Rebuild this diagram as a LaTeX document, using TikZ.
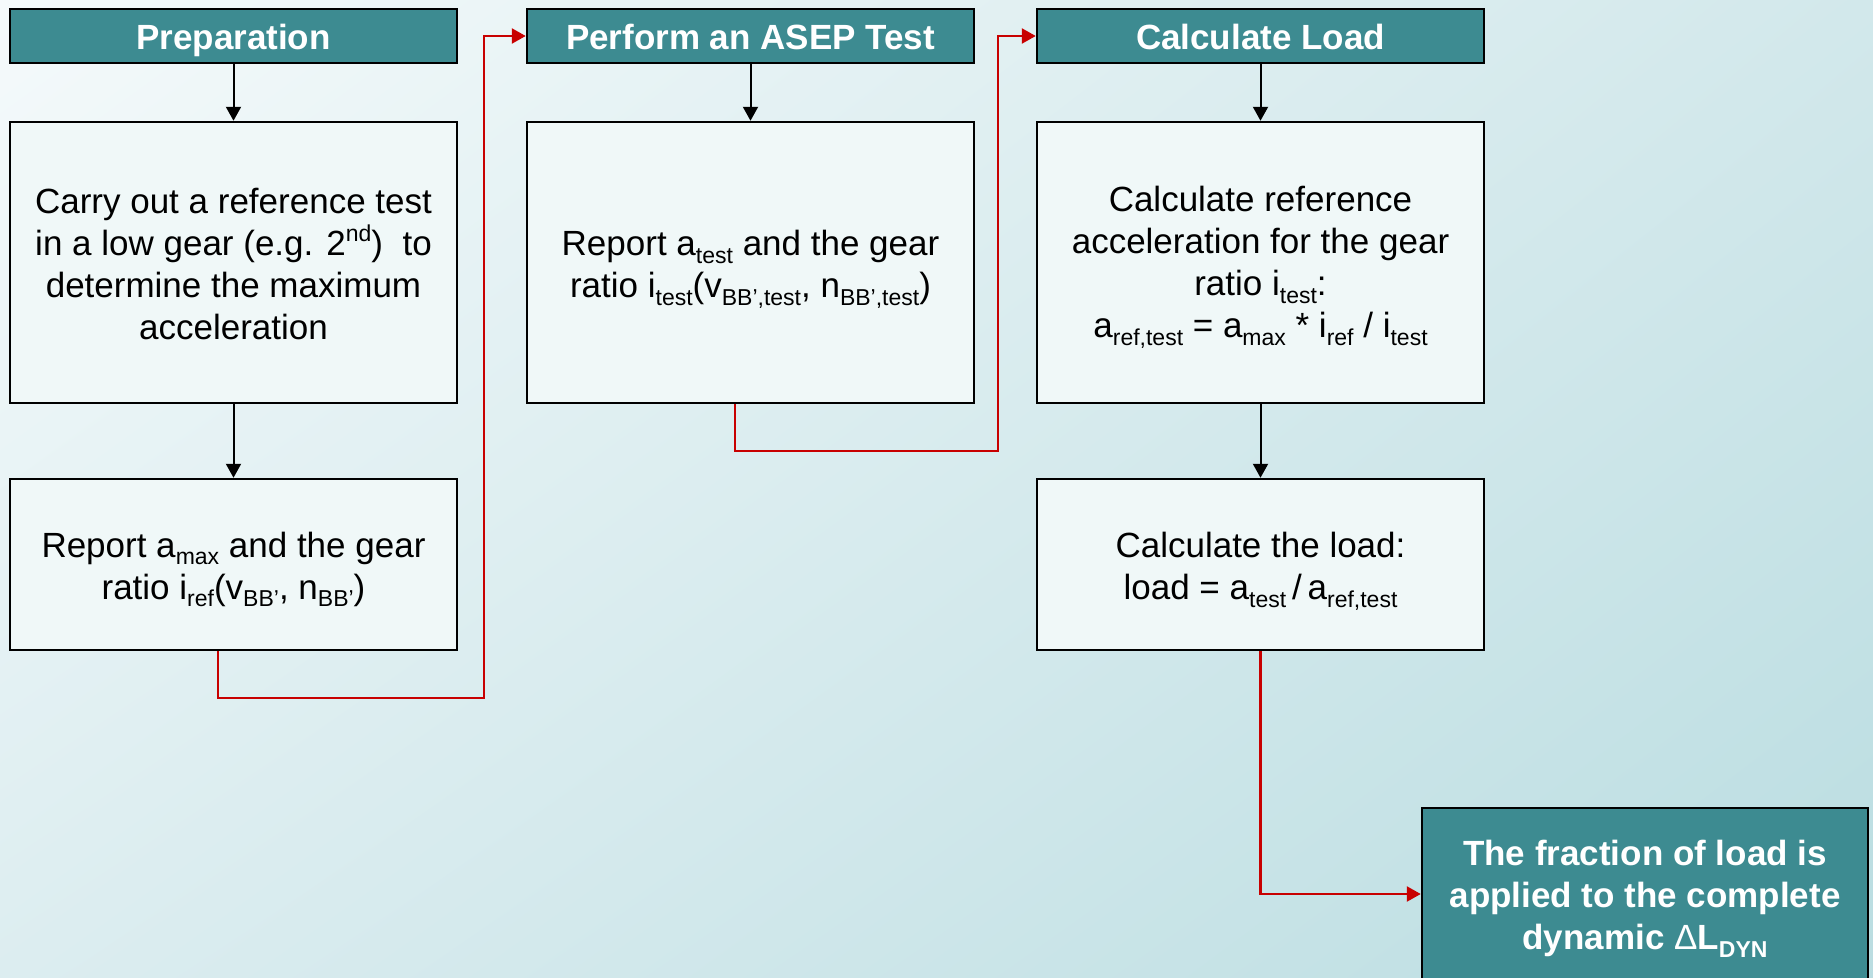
\documentclass[tikz,border=0pt]{standalone}
\usepackage{fontspec}
\setmainfont{Liberation Sans}
\usetikzlibrary{arrows.meta,shadings}
\definecolor{bgUL}{RGB}{245,250,251}
\definecolor{bgUR}{RGB}{210,232,235}
\definecolor{bgLL}{RGB}{220,237,240}
\definecolor{bgLR}{RGB}{186,221,225}
\definecolor{hdteal}{RGB}{61,139,145}
\definecolor{boxfill}{RGB}{240,248,248}
\definecolor{redline}{RGB}{200,0,0}
\newcommand{\lsub}[1]{\raisebox{-0.22em}{\fontsize{23}{23}\selectfont #1}}
\newcommand{\lsup}[1]{\raisebox{0.42em}{\fontsize{23}{23}\selectfont #1}}
\begin{document}
\begin{tikzpicture}[x=1pt,y=-1pt,
  header/.style={draw=black, line width=2.5pt, fill=hdteal, text=white, minimum width=447pt, minimum height=54pt, inner sep=0pt, text height=30pt, text depth=4pt, font=\fontsize{35}{42}\selectfont\bfseries},
  stepbox/.style={draw=black, line width=2.5pt, fill=boxfill, minimum width=447pt, inner sep=0pt},
  steptext/.style={text=black, inner sep=0pt, align=center, font=\fontsize{35}{42}\selectfont},
  finalbox/.style={draw=black, line width=2.5pt, fill=hdteal, minimum width=446pt, minimum height=172pt, inner sep=0pt},
  finaltext/.style={text=white, inner sep=0pt, align=center, font=\fontsize{35}{42}\selectfont\bfseries},
  blk/.style={draw=black, line width=2pt, -{Triangle[length=14pt,width=15pt]}},
  redc/.style={draw=redline, line width=2.5pt, -{Triangle[length=14pt,width=15pt]}}
]
\useasboundingbox (0,0) rectangle (1873,977);
\clip (0,0) rectangle (1873,977);
\shade[upper left=bgUL, upper right=bgUR, lower left=bgLL, lower right=bgLR] (0,0) rectangle (1873,977);

% headers
\node[header] (h1) at (233.5,36) {Preparation};
\node[header] (h2) at (750.5,36) {Perform an ASEP Test};
\node[header] (h3) at (1260.5,36) {Calculate Load};

% boxes
\node[stepbox, minimum height=281pt] (b1) at (233.5,262.5) {};
\node[steptext] (t1) at ([yshift=-2pt]b1.center) {Carry out a reference test\\in a low gear (e.g. 2\lsup{nd})\ \ to\\determine the maximum\\acceleration};
\node[stepbox, minimum height=171pt] (b2) at (233.5,564.5) {};
\node[steptext] (t2) at ([yshift=-5pt]b2.center) {Report a\lsub{max} and the gear\\ratio i\lsub{ref}(v\lsub{BB’}, n\lsub{BB’})};
\node[stepbox, minimum height=281pt] (b3) at (750.5,262.5) {};
\node[steptext] (t3) at ([yshift=-7pt]b3.center) {Report a\lsub{test} and the gear\\ratio i\lsub{test}(v\lsub{BB’,test}, n\lsub{BB’,test})};
\node[stepbox, minimum height=281pt] (b4) at (1260.5,262.5) {};
\node[steptext] (t4) at ([yshift=-5pt]b4.center) {Calculate reference\\acceleration for the gear\\ratio i\lsub{test}:\\a\lsub{ref,test} = a\lsub{max} * i\lsub{ref} / i\lsub{test}};
\node[stepbox, minimum height=171pt] (b5) at (1260.5,564.5) {};
\node[steptext] (t5) at ([yshift=-7pt]b5.center) {Calculate the load:\\load = a\lsub{test}\,/\,a\lsub{ref,test}};
\node[finalbox] (fin) at (1645,894) {};
\node[finaltext] (tf) at ([yshift=-5pt]fin.center) {The fraction of load is\\applied to the complete\\dynamic {\mdseries Δ}L\lsub{DYN}};

% black arrows
\draw[blk] (h1.south) -- (b1.north);
\draw[blk] (b1.south) -- (b2.north);
\draw[blk] (h2.south) -- (b3.north);
\draw[blk] (h3.south) -- (b4.north);
\draw[blk] (b4.south) -- (b5.north);

% red connectors
\coordinate (r1) at (484,698);
\coordinate (r2) at (998,451);
\draw[redc] ([xshift=-15.5pt]b2.south) |- (r1) |- (h2.west);
\draw[redc] ([xshift=-15.5pt]b3.south) |- (r2) |- (h3.west);
\draw[redc] (b5.south) |- (fin.west);
\end{tikzpicture}
\end{document}
